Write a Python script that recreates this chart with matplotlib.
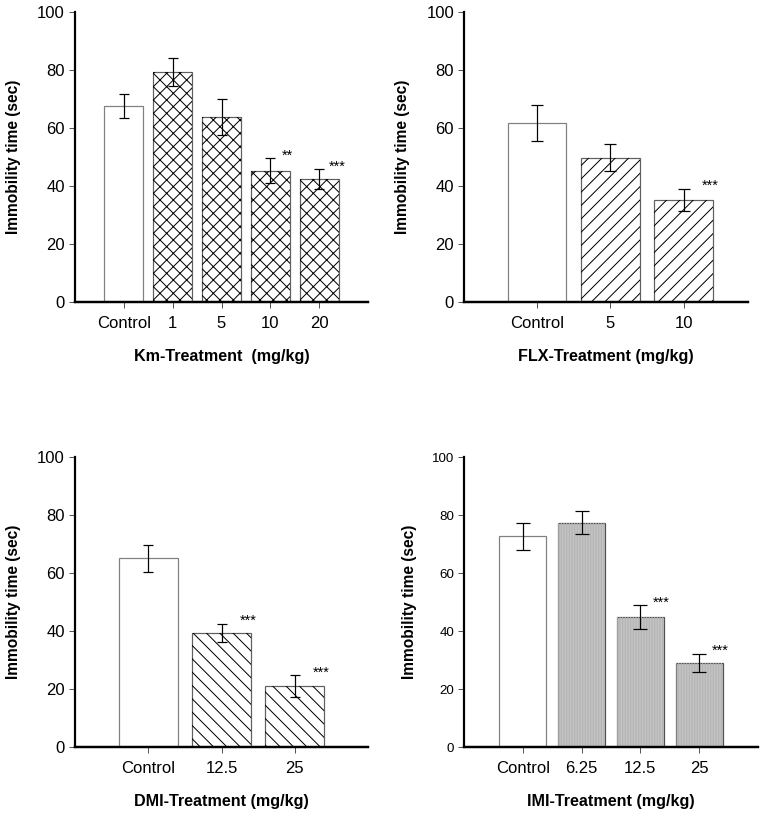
import numpy as np
import matplotlib
matplotlib.use("Agg")
import matplotlib.pyplot as plt

plt.rcParams['font.family'] = ['Liberation Sans', 'DejaVu Sans']
plt.rcParams['hatch.linewidth'] = 0.9

# data
km_labels = ['Control', '1', '5', '10', '20']
km_mean = [67.6, 79.3, 63.8, 45.2, 42.3]
km_err = [4.2, 4.7, 6.1, 4.3, 3.4]
km_sig = ['', '', '', '**', '***']

flx_labels = ['Control', '5', '10']
flx_mean = [61.8, 49.8, 35.2]
flx_err = [6.2, 4.6, 3.9]
flx_sig = ['', '', '***']

dmi_labels = ['Control', '12.5', '25']
dmi_mean = [65.1, 39.4, 21.0]
dmi_err = [4.7, 3.1, 3.7]
dmi_sig = ['', '***', '***']

imi_labels = ['Control', '6.25', '12.5', '25']
imi_mean = [72.6, 77.4, 44.8, 29.1]
imi_err = [4.65, 4.0, 4.0, 3.1]
imi_sig = ['', '', '***', '***']

W, H, DPI = 761, 814, 80
fig = plt.figure(figsize=(W / DPI, H / DPI), dpi=DPI)


def px_axes(x0, x1, ytop, ybot):
    return fig.add_axes([x0 / W, (H - ybot) / H, (x1 - x0) / W, (ybot - ytop) / H])


def panel(ax, labels, mean, err, sig, xlabel, hatch, face, hatch_col, edge,
          xmax, capsize, ytick_size, ylab_x):
    x = np.arange(len(labels))
    # control bar is plain white
    faces = ['white'] + [face] * (len(labels) - 1)
    edges = ['#808080'] + [edge] * (len(labels) - 1)
    ax.bar(x, mean, width=0.8, color=faces, edgecolor=edges, linewidth=1.1, zorder=2)
    ax.bar(x[1:], mean[1:], width=0.8, fill=False, hatch=hatch,
           edgecolor=hatch_col, linewidth=0, zorder=2.5)
    ax.errorbar(x, mean, yerr=err, fmt='none', ecolor='black', elinewidth=1.1,
                capsize=capsize, capthick=1.1, zorder=3)
    for xi, m, e, s in zip(x, mean, err, sig):
        if s:
            ax.text(xi + 0.36, m + e + 1.0, s, ha='center', va='center', fontsize=13)
    ax.set_xlim(-1, xmax)
    ax.set_ylim(0, 100)
    ax.set_yticks(np.arange(0, 101, 20))
    ax.set_xticks(x)
    ax.set_xticklabels(labels, fontsize=15)
    ax.tick_params(axis='y', labelsize=ytick_size, length=5, width=0.9, color='#555555', pad=4)
    ax.tick_params(axis='x', length=5, width=0.9, color='#555555', pad=8)
    for s in ['top', 'right']:
        ax.spines[s].set_visible(False)
    ax.spines['left'].set_linewidth(2.0)
    ax.spines['bottom'].set_linewidth(2.2)
    ax.spines['bottom'].set_zorder(4)
    ax.set_xlabel(xlabel, fontsize=14.5, fontweight='bold', labelpad=16)
    ax.set_ylabel('Immobility time (sec)', fontsize=14, fontweight='bold')
    ax.yaxis.set_label_coords(ylab_x, 0.5)


ax1 = px_axes(75, 368, 12, 302)
panel(ax1, km_labels, km_mean, km_err, km_sig, 'Km-Treatment  (mg/kg)',
      'xx', 'white', 'black', '#606060', 5, 4.5, 15, -0.186)

ax2 = px_axes(464, 748, 12, 302)
panel(ax2, flx_labels, flx_mean, flx_err, flx_sig, 'FLX-Treatment (mg/kg)',
      '//', 'white', 'black', '#606060', 2.88, 5, 15, -0.19)

ax3 = px_axes(75, 368, 457, 747)
panel(ax3, dmi_labels, dmi_mean, dmi_err, dmi_sig, 'DMI-Treatment (mg/kg)',
      '\\\\', 'white', 'black', '#606060', 3, 4.5, 15, -0.186)

ax4 = px_axes(464, 758, 457, 747)
panel(ax4, imi_labels, imi_mean, imi_err, imi_sig, 'IMI-Treatment (mg/kg)',
      '|||||', '#c4c4c4', '#b2b2b2', '#505050', 4, 6, 12, -0.161)

fig.savefig('out.png', dpi=DPI)
